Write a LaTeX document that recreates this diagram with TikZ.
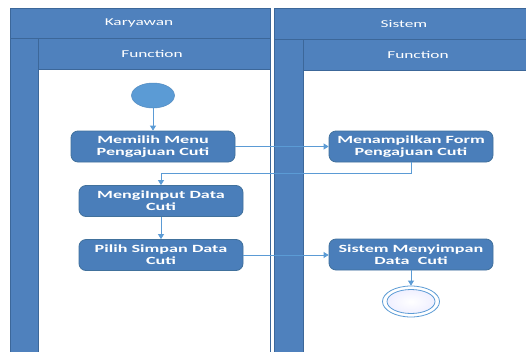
\documentclass[tikz,border=0pt]{standalone}
\usepackage{fontspec}
\setmainfont{Carlito}[FakeStretch=1.65]
\usetikzlibrary{arrows.meta,shapes.geometric}
\definecolor{lane}{HTML}{4F81BD}
\definecolor{laneedge}{HTML}{3C6799}
\definecolor{flow}{HTML}{5B9BD5}
\definecolor{act}{HTML}{4A7EBA}
\definecolor{actedge}{HTML}{41719C}
\begin{document}
\begin{tikzpicture}[x=1pt,y=-1pt,
  lanebox/.style={fill=lane,draw=laneedge,line width=0.8pt},
  whitebox/.style={fill=white,draw=laneedge,line width=0.8pt},
  activity/.style={rectangle,rounded corners=7pt,fill=act,draw=actedge,line width=0.8pt,
    minimum width=164pt,minimum height=31pt,text=white,
    font=\bfseries\fontsize{11}{12}\selectfont,align=center,inner sep=0pt},
  flowline/.style={draw=flow,line width=0.8pt},
  flowarrow/.style={flowline,-{Triangle[width=6pt,length=5pt]}},
  header/.style={text=white,font=\fontsize{10.5}{12}\selectfont}]
\useasboundingbox (0,0) rectangle (526,351);
% swimlane: Karyawan
\draw[lanebox] (10,8) rectangle (270,38);
\draw[lanebox] (10,38) rectangle (38,356);
\draw[lanebox] (38,38) rectangle (270,69);
\draw[whitebox] (38,69) rectangle (270,356);
\node[header] (hk) at (139,23) {Karyawan};
\node[header] (fk) at (152,53.5) {Function};
% swimlane: Sistem
\draw[lanebox] (274,8) rectangle (530,39);
\draw[lanebox] (274,39) rectangle (303,356);
\draw[lanebox] (303,39) rectangle (530,70);
\draw[whitebox] (303,70) rectangle (530,356);
\node[header] (hs) at (404,23.5) {Sistem};
\node[header] (fs) at (418,54.5) {Function};
% start and end states
\node[ellipse,fill=flow,draw=flow!90!black,line width=0.5pt,minimum width=43pt,minimum height=25pt,inner sep=0pt] (start) at (153,95.5) {};
\node[ellipse,draw=flow,line width=0.8pt,fill=white,minimum width=57pt,minimum height=31pt,inner sep=0pt] (end) at (411,301.5) {};
\node[ellipse,draw=flow,line width=0.8pt,inner color=white,outer color=blue!6,minimum width=48pt,minimum height=24pt,inner sep=0pt] (endin) at (411,301.5) {};
% activities
\node[activity] (b1) at (153,146.5) {Memilih Menu\\Pengajuan Cuti};
\node[activity] (b2) at (161,201) {MengiInput Data\\Cuti};
\node[activity] (b3) at (161,255) {Pilih Simpan Data\\Cuti};
\node[activity] (b4) at (411,146.5) {Menampilkan Form\\Pengajuan Cuti};
\node[activity] (b5) at (411,254.5) {Sistem Menyimpan\\Data\ \ Cuti};
% control flow
\draw[flowarrow] (start) -- (b1);
\draw[flowarrow] (b1) -- (b4);
\draw[flowarrow] (b4.south) |- ([yshift=12pt]b2.north) -- (b2.north);
\draw[flowarrow] (b2) -- (b3);
\draw[flowarrow] (b3.east) -- (b3.east -| b5.west);
\draw[flowarrow] (b5) -- (end);
\end{tikzpicture}
\end{document}
